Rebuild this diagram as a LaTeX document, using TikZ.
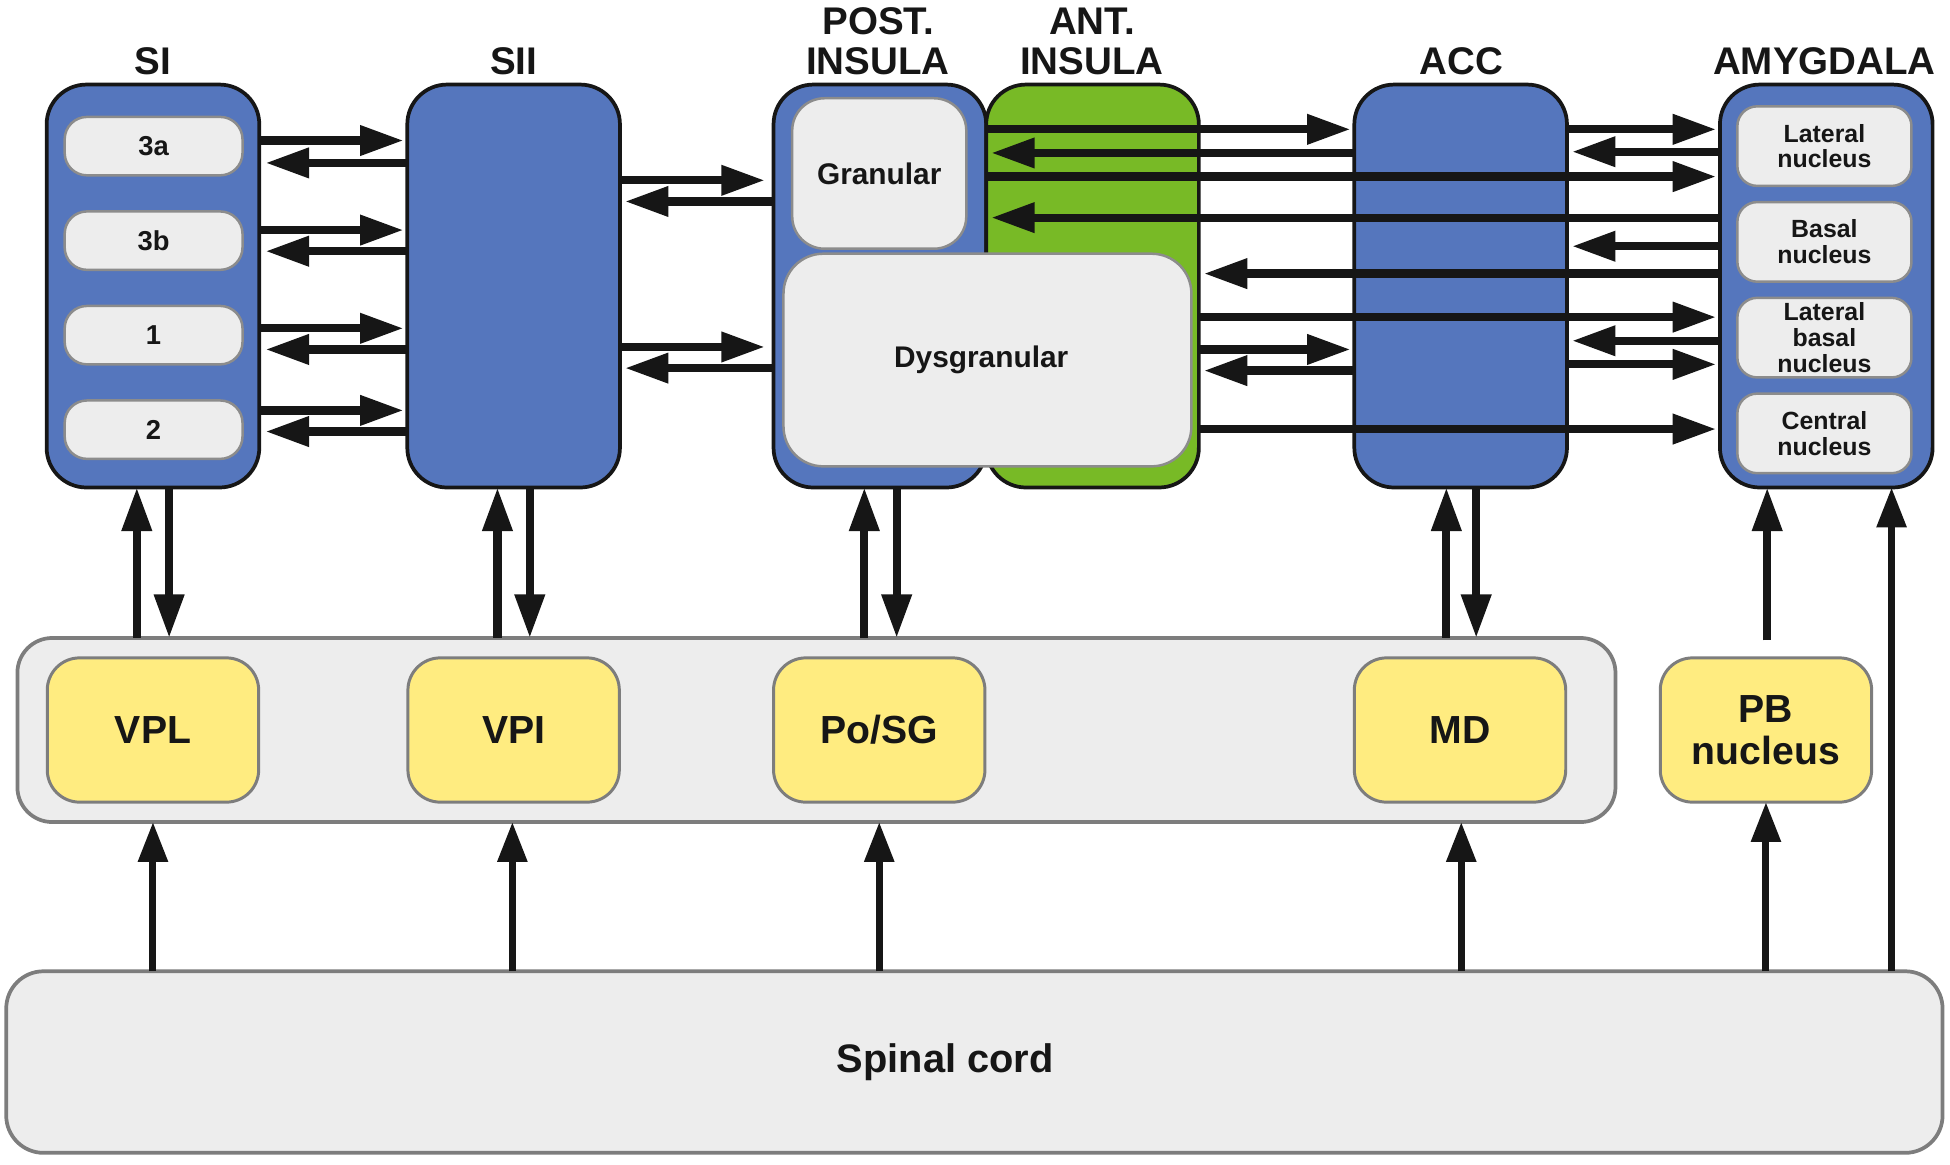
\documentclass[tikz,border=0pt]{standalone}
\usepackage{fontspec}
\setmainfont{Liberation Sans}
\usetikzlibrary{arrows.meta}
\definecolor{boxblue}{RGB}{85,118,189}
\definecolor{insgreen}{RGB}{120,186,38}
\definecolor{lightbox}{RGB}{237,237,237}
\definecolor{subborder}{RGB}{140,140,140}
\definecolor{frameborder}{RGB}{125,125,125}
\definecolor{yellowbox}{RGB}{255,236,128}
\definecolor{ink}{RGB}{22,22,22}
\begin{document}
\begin{tikzpicture}[x=0.5pt,y=-0.5pt,
  every node/.style={inner sep=0pt, outer sep=0pt, text=ink},
  title/.style={font=\fontsize{15.5}{16}\selectfont\bfseries, align=center},
  bigbox/.style={draw=ink, line width=1.5pt, rounded corners=16pt, minimum width=85.5pt, minimum height=162pt},
  bluebox/.style={bigbox, fill=boxblue},
  greenbox/.style={bigbox, fill=insgreen},
  subbox/.style={draw=subborder, line width=1pt, fill=lightbox, rounded corners=9pt, minimum width=71.5pt, minimum height=23.5pt, font=\fontsize{11}{12}\selectfont\bfseries},
  amysub/.style={draw=subborder, line width=1pt, fill=lightbox, rounded corners=8pt, minimum width=70pt, minimum height=32pt, align=center, font=\fontsize{10}{10.3}\selectfont\bfseries},
  inslabel/.style={draw=subborder, line width=1pt, fill=lightbox, font=\fontsize{12}{13}\selectfont\bfseries},
  thalbox/.style={draw=frameborder, line width=1.5pt, fill=lightbox, rounded corners=14pt},
  ybox/.style={draw=frameborder, line width=1.2pt, fill=yellowbox, rounded corners=13pt, minimum width=85pt, minimum height=58pt, align=center, font=\fontsize{15.75}{16.75}\selectfont\bfseries},
  arr/.style={draw=ink, line width=3.3pt, -{Triangle[length=17.5pt,width=11.5pt]}},
  sarr/.style={draw=ink, line width=2.8pt, -{Triangle[length=16pt,width=11.5pt]}}
]
\useasboundingbox (0,0) rectangle (1568,936);

% titles
\node[title, anchor=base] (tSI) at (123,60) {SI};
\node[title, anchor=base] (tSII) at (413,60) {SII};
\node[title, anchor=south] (tPI) at (706,60) {POST.\\INSULA};
\node[title, anchor=south] (tAI) at (878,60) {ANT.\\INSULA};
\node[title, anchor=base] (tACC) at (1175,60) {ACC};
\node[title, anchor=base] (tAMY) at (1467,60) {AMYGDALA};

% cortical boxes
\node[bluebox] (SI) at (123,230) {};
\node[bluebox] (SII) at (413,230) {};
\node[bluebox] (PI) at (707.5,230) {};
\node[greenbox] (AI) at (878.5,230) {};
\node[bluebox] (ACC) at (1174.5,230) {};
\node[bluebox] (AMY) at (1468.5,230) {};

% SI sub-areas
\node[subbox] (s3a) at (123.5,117.5) {3a};
\node[subbox] (s3b) at (123.5,193.5) {3b};
\node[subbox] (s1) at (123.5,269.5) {1};
\node[subbox] (s2) at (123.5,345.5) {2};

% insula sub-areas
\node[inslabel, rounded corners=13pt, minimum width=70pt, minimum height=60.5pt] (GR) at (707,139.5) {Granular};

% amygdala nuclei
\node[amysub] (LN) at (1467,117.5) {Lateral\\nucleus};
\node[amysub] (BN) at (1467,194.5) {Basal\\nucleus};
\node[amysub] (LBN) at (1467,271.5) {Lateral\\basal\\nucleus};
\node[amysub] (CN) at (1467,348.5) {Central\\nucleus};

% granular <-> ACC / amygdala (across the anterior insula)
\draw[arr] (AI.west|-0,104) -- ([xshift=-1.5pt]ACC.west|-0,104);
\draw[arr] (ACC.west|-0,123) -- ([xshift=2pt]AI.west|-0,123);
\draw[arr] (AI.west|-0,142) -- ([xshift=-1.5pt]AMY.west|-0,142);
\draw[arr] (AMY.west|-0,175) -- ([xshift=2pt]AI.west|-0,175);

\node[inslabel, rounded corners=16pt, minimum width=164pt, minimum height=85.5pt] (DG) at (794,289.5) {Dysgranular\hspace*{5pt}};

% SI <-> SII
\foreach \y in {113,185,264,330}
  \draw[arr] (SI.east|-0,\y) -- ([xshift=-1.5pt]SII.west|-0,\y);
\foreach \y in {131,202,281,347}
  \draw[arr] (SII.west|-0,\y) -- ([xshift=2.5pt]SI.east|-0,\y);

% SII <-> posterior insula
\foreach \y in {145,279}
  \draw[arr] (SII.east|-0,\y) -- ([xshift=-3.5pt]PI.west|-0,\y);
\foreach \y in {162,296}
  \draw[arr] (PI.west|-0,\y) -- ([xshift=2pt]SII.east|-0,\y);

% ACC <-> amygdala, insula <-> ACC / amygdala
\draw[arr] (ACC.east|-0,104) -- ([xshift=-1.5pt]AMY.west|-0,104);
\draw[arr] (AMY.west|-0,122) -- ([xshift=2pt]ACC.east|-0,122);
\draw[arr] (AMY.west|-0,198) -- ([xshift=2pt]ACC.east|-0,198);
\draw[arr] (AMY.west|-0,220) -- ([xshift=2pt]AI.east|-0,220);
\draw[arr] (AI.east|-0,255) -- ([xshift=-1.5pt]AMY.west|-0,255);
\draw[arr] (AMY.west|-0,274) -- ([xshift=2pt]ACC.east|-0,274);
\draw[arr] (AI.east|-0,281) -- ([xshift=-1.5pt]ACC.west|-0,281);
\draw[arr] (ACC.east|-0,293) -- ([xshift=-1.5pt]AMY.west|-0,293);
\draw[arr] (ACC.west|-0,298) -- ([xshift=2pt]AI.east|-0,298);
\draw[arr] (AI.east|-0,345) -- ([xshift=-1.5pt]AMY.west|-0,345);

% thalamus
\node[thalbox, minimum width=642.5pt, minimum height=74pt] (TH) at (656.5,587) {};
\node[ybox] (VPL) at (123,587) {VPL};
\node[ybox] (VPI) at (413,587) {VPI};
\node[ybox] (POSG) at (707,587) {Po/SG};
\node[ybox] (MD) at (1174,587) {MD};
\node[ybox] (PB) at (1420,587) {PB\\nucleus};

% spinal cord
\node[thalbox, rounded corners=15pt, minimum width=778.5pt, minimum height=73pt, font=\fontsize{16}{17}\selectfont\bfseries] (SC) at (783.5,854) {\raisebox{-1pt}{Spinal cord}\hspace*{23.5pt}};

% thalamus <-> cortex
\draw[arr] (TH.north-|110,0) -- (SI.south-|110,0);
\draw[arr] (SI.south-|136,0) -- (TH.north-|136,0);
\draw[arr] (TH.north-|400,0) -- (SII.south-|400,0);
\draw[arr] (SII.south-|426,0) -- (TH.north-|426,0);
\draw[arr] (TH.north-|695,0) -- (PI.south-|695,0);
\draw[arr] (PI.south-|721,0) -- (TH.north-|721,0);
\draw[arr] (TH.north-|1163,0) -- (ACC.south-|1163,0);
\draw[arr] (ACC.south-|1187,0) -- (TH.north-|1187,0);
\coordinate (pbtop) at (1421,515);
\draw[arr] (pbtop) -- (AMY.south-|pbtop);

% spinal cord ascending
\foreach \x in {123,412,707,1175}
  \draw[sarr] (SC.north-|\x,0) -- (TH.south-|\x,0);
\draw[sarr] (SC.north-|1420,0) -- (PB.south-|1420,0);
\draw[sarr] (SC.north-|1521,0) -- (AMY.south-|1521,0);
\end{tikzpicture}
\end{document}
